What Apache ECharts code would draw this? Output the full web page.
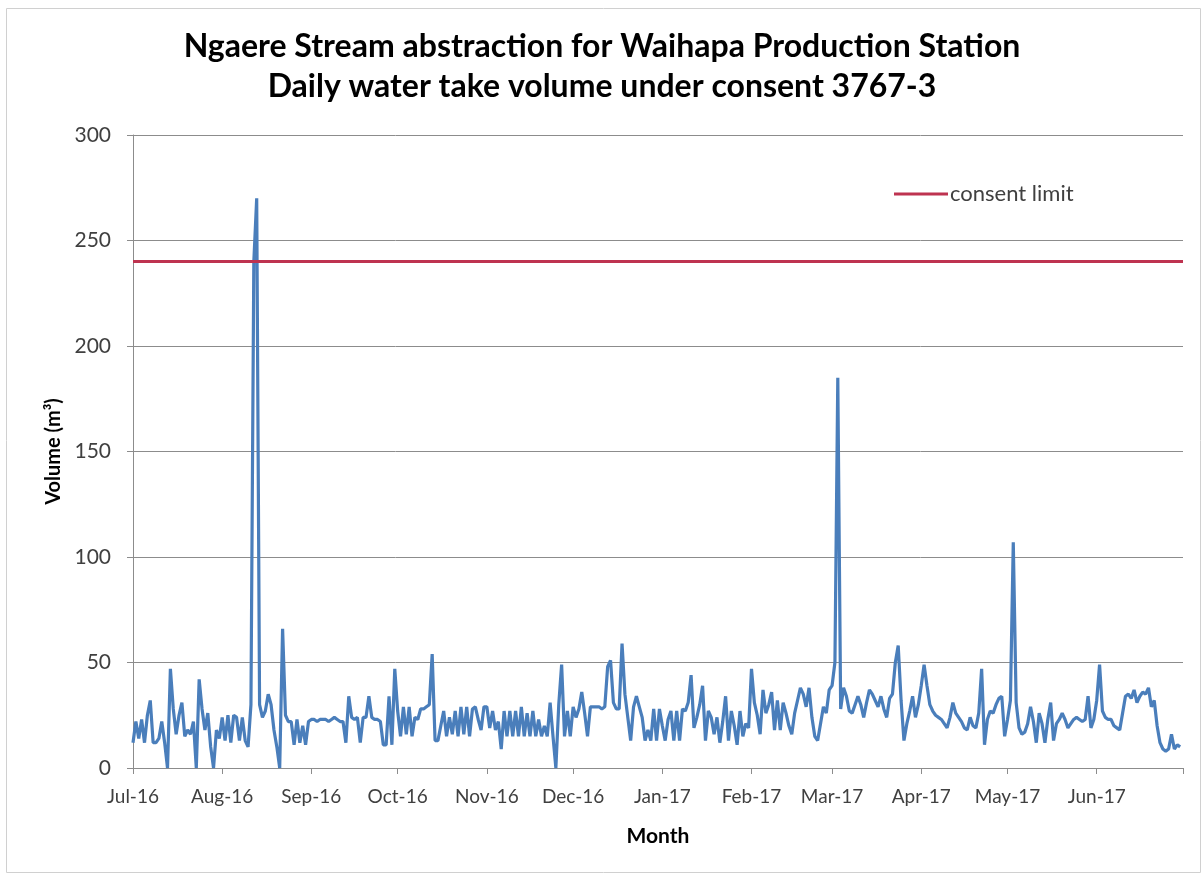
<!DOCTYPE html>
<html>
<head>
<meta charset="utf-8">
<script src="https://cdn.jsdelivr.net/npm/echarts@6/dist/echarts.min.js"></script>
<style>
  html, body { margin: 0; padding: 0; background: #fff; }
  #chart { width: 1204px; height: 875px; }
</style>
</head>
<body>
<div id="chart"></div>
<script>
// month labels on the x axis
const monthLabels = ['Jul-16', 'Aug-16', 'Sep-16', 'Oct-16', 'Nov-16', 'Dec-16',
  'Jan-17', 'Feb-17', 'Mar-17', 'Apr-17', 'May-17', 'Jun-17']

// daily take volume (m3), one array per month
const jul16 = [12, 22, 14, 23, 12, 25, 32, 12, 12, 14, 22, 12, 0, 47, 28, 16, 25, 31, 15, 18,
  16, 22, 0, 42, 28, 18, 26, 10, 0, 18, 14]
const aug16 = [24, 13, 25, 12, 25, 24, 13, 24, 13, 10, 30, 240, 270, 30, 24, 27, 35, 30, 18, 10,
  0, 66, 25, 22, 22, 11, 23, 12, 20, 11, 22]
const sep16 = [23, 23, 22, 23, 23, 23, 22, 23, 24, 23, 22, 22, 12, 34, 24, 23, 24, 12, 24, 24,
  34, 24, 23, 23, 22, 11, 11, 34, 11, 47]
const oct16 = [27, 15, 29, 16, 29, 15, 24, 23, 28, 28, 29, 30, 54, 13, 13, 20, 27, 15, 24, 16,
  27, 15, 29, 16, 29, 15, 28, 29, 23, 18, 29]
const nov16 = [29, 19, 27, 18, 22, 9, 27, 15, 27, 15, 27, 15, 29, 15, 26, 15, 27, 15, 23, 15,
  20, 15, 31, 15, 0, 30, 49, 15, 27, 15]
const dec16 = [29, 24, 28, 36, 26, 15, 29, 29, 29, 29, 28, 29, 48, 51, 31, 28, 28, 59, 35, 24,
  13, 29, 34, 29, 24, 13, 18, 13, 28, 13, 28]
const jan17 = [20, 13, 23, 27, 13, 27, 13, 28, 27, 31, 44, 19, 24, 30, 39, 13, 27, 24, 16, 24,
  12, 22, 34, 13, 27, 20, 11, 27, 15, 21, 19]
const feb17 = [47, 31, 25, 16, 37, 26, 30, 36, 18, 32, 18, 31, 26, 20, 16, 26, 32, 38, 35, 29,
  38, 24, 15, 13, 21, 29, 26, 37]
const mar17 = [39, 50, 185, 28, 38, 34, 27, 26, 30, 34, 30, 24, 31, 37, 35, 32, 29, 34, 28, 24,
  33, 35, 50, 58, 32, 13, 21, 27, 34, 24, 30]
const apr17 = [39, 49, 39, 30, 27, 25, 24, 23, 21, 19, 24, 31, 26, 24, 22, 19, 18, 24, 20, 19,
  26, 47, 11, 23, 27, 26, 30, 33, 34, 15]
const may17 = [23, 32, 107, 31, 19, 16, 17, 21, 29, 22, 12, 26, 21, 12, 23, 31, 13, 21, 23, 26,
  23, 19, 21, 23, 24, 23, 22, 23, 34, 19, 23]
const jun17 = [32, 49, 27, 24, 23, 23, 20, 19, 18, 26, 34, 35, 33, 37, 31, 34, 36, 35, 38, 29,
  32, 20, 12, 9, 8, 9, 16, 9, 11, 10]

const consentLimit = 240

const months = [jul16, aug16, sep16, oct16, nov16, dec16, jan17, feb17, mar17, apr17, may17, jun17]

// one category per day; the first day of a month carries the month label
const days = []
const volumes = []
months.forEach((m, i) => {
  m.forEach((v, d) => {
    days.push(d === 0 ? monthLabels[i] : monthLabels[i] + ' ' + (d + 1))
    volumes.push(v)
  })
})
// closing boundary (1 Jul 2017) so the last month gets its tick
days.push('end')
volumes.push(null)

const isMonthStart = (idx, val) => val.indexOf(' ') < 0
const showLabel = (idx, val) => val !== 'end' && isMonthStart(idx, val)

const chart = echarts.init(document.getElementById('chart'))

const font = 'Lato, "Open Sans", sans-serif'
const gridColor = '#8c8c8c'

chart.setOption({
  animation: false,
  textStyle: { fontFamily: font },
  graphic: [{
    type: 'rect',
    left: 4,
    top: 6,
    shape: { width: 1194, height: 864 },
    style: { fill: 'none', stroke: '#d0d0d0', lineWidth: 1 },
    silent: true
  }],
  title: {
    text: 'Ngaere Stream abstraction for Waihapa Production Station\nDaily water take volume under consent 3767-3',
    left: 'center',
    top: 22,
    textStyle: {
      fontFamily: font,
      fontSize: 32,
      fontWeight: 'bold',
      color: '#000',
      lineHeight: 40
    }
  },
  legend: {
    data: ['consent limit'],
    left: 889,
    top: 178,
    icon: 'rect',
    itemWidth: 54,
    itemHeight: 3,
    itemGap: 4,
    textStyle: { fontFamily: font, fontSize: 22, color: '#404040', padding: [0, 0, 0, -3] }
  },
  grid: {
    left: 133,
    right: 21,
    top: 135,
    bottom: 107
  },
  xAxis: {
    type: 'category',
    data: days,
    boundaryGap: false,
    name: 'Month',
    nameLocation: 'middle',
    nameGap: 58,
    nameTextStyle: { fontFamily: font, fontSize: 21, fontWeight: 'bold', color: '#000' },
    axisLine: { lineStyle: { color: gridColor, width: 1 } },
    axisTick: { show: true, interval: isMonthStart, length: 6, lineStyle: { color: gridColor } },
    axisLabel: {
      interval: showLabel,
      fontSize: 19,
      color: '#404040',
      margin: 19
    },
    splitLine: { show: false }
  },
  yAxis: {
    type: 'value',
    min: 0,
    max: 300,
    interval: 50,
    name: 'Volume (m³)',
    nameLocation: 'middle',
    nameRotate: 90,
    nameGap: 68,
    nameTextStyle: { fontFamily: font, fontSize: 20, fontWeight: 'bold', color: '#000' },
    axisLine: { show: true, lineStyle: { color: gridColor, width: 1 } },
    axisTick: { show: true, length: 6, lineStyle: { color: gridColor } },
    axisLabel: { fontSize: 21, color: '#404040', margin: 22 },
    splitLine: { show: true, lineStyle: { color: gridColor, width: 1 } }
  },
  series: [
    {
      name: 'volume',
      type: 'line',
      data: volumes,
      showSymbol: false,
      symbol: 'none',
      lineStyle: { color: '#4a7ebb', width: 3.2 },
      itemStyle: { color: '#4a7ebb' },
      z: 3
    },
    {
      name: 'consent limit',
      type: 'line',
      data: [],
      symbol: 'none',
      itemStyle: { color: '#be3350' },
      lineStyle: { color: '#be3350', width: 3 },
      markLine: {
        silent: true,
        symbol: 'none',
        label: { show: false },
        lineStyle: { color: '#be3350', width: 3, type: 'solid' },
        data: [{ yAxis: consentLimit }]
      },
      z: 4
    }
  ]
})
</script>
</body>
</html>
